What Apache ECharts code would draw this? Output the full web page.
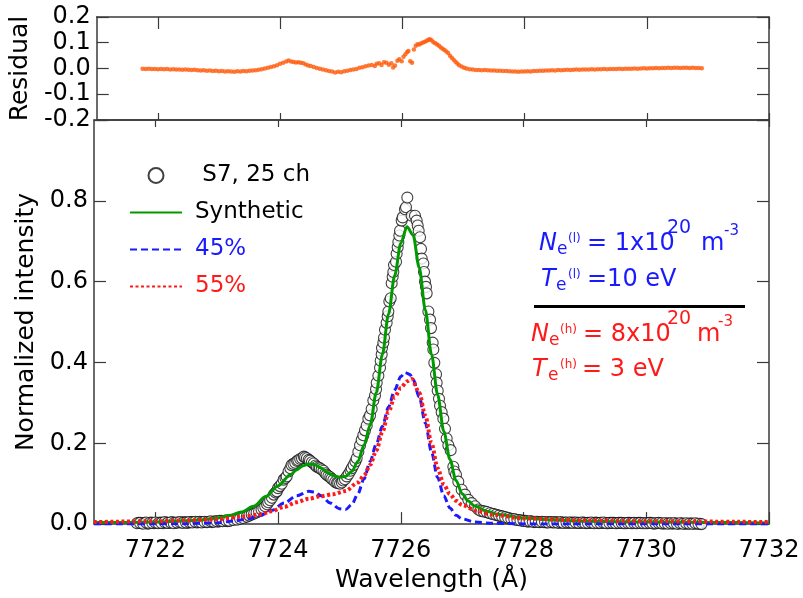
<!DOCTYPE html>
<html><head><meta charset="utf-8">
<script src="https://cdn.jsdelivr.net/npm/echarts@6/dist/echarts.min.js"></script>
<style>html,body{margin:0;padding:0;background:#fff}#c{width:803px;height:598px}</style>
</head><body><div id="c"></div><script>
// ---- data ----
const xTicks = [7722, 7724, 7726, 7728, 7730, 7732];
const resTicks = [-0.2, -0.1, 0.0, 0.1, 0.2];
const mainTicks = [0.0, 0.2, 0.4, 0.6, 0.8, 1.0];

const measured = [
// dense wing samples
[7721.725,0.003],[7721.775,0.002],[7721.825,0.003],[7721.875,0.001],[7721.925,0.004],[7721.975,0.002],[7722.025,0.003],[7722.075,0.004],
[7722.125,0.002],[7722.175,0.004],[7722.225,0.003],[7722.275,0.005],[7722.325,0.003],[7722.375,0.004],[7722.425,0.004],[7722.475,0.005],
[7722.525,0.003],[7722.575,0.005],[7722.625,0.005],[7722.675,0.004],[7722.725,0.006],[7722.775,0.005],[7722.825,0.005],[7722.875,0.006],
[7722.925,0.005],[7722.975,0.007],[7723.025,0.006],[7723.075,0.008],[7723.125,0.008],[7723.175,0.007],[7723.225,0.009],
[7727.325,0.032],[7727.375,0.031],[7727.425,0.028],[7727.475,0.026],[7727.525,0.024],[7727.575,0.022],[7727.625,0.020],[7727.675,0.018],
[7727.725,0.016],[7727.775,0.014],[7727.825,0.012],[7727.875,0.011],[7727.925,0.010],
[7727.975,0.009],[7728.025,0.008],[7728.075,0.006],[7728.125,0.007],[7728.175,0.005],[7728.225,0.006],[7728.275,0.005],[7728.325,0.005],
[7728.375,0.004],[7728.425,0.005],[7728.475,0.004],[7728.525,0.005],[7728.575,0.003],[7728.625,0.004],[7728.675,0.004],[7728.725,0.003],
[7728.775,0.004],[7728.825,0.004],[7728.875,0.003],[7728.925,0.003],[7728.975,0.004],[7729.025,0.002],[7729.075,0.003],[7729.125,0.003],
[7729.175,0.004],[7729.225,0.002],[7729.275,0.003],[7729.325,0.003],[7729.375,0.002],[7729.425,0.003],[7729.475,0.003],[7729.525,0.002],
[7729.575,0.003],[7729.625,0.002],[7729.675,0.002],[7729.725,0.003],[7729.775,0.002],[7729.825,0.002],[7729.875,0.003],[7729.925,0.002],
[7729.975,0.002],[7730.025,0.002],[7730.075,0.003],[7730.125,0.001],[7730.175,0.002],[7730.225,0.002],[7730.275,0.001],[7730.325,0.002],
[7730.375,0.002],[7730.425,0.001],[7730.475,0.002],[7730.525,0.001],[7730.575,0.002],[7730.625,0.001],[7730.675,0.001],[7730.725,0.002],
[7730.775,0.001],[7730.825,0.001],[7730.875,0.001],
// main sweep
[7721.70,0.002],[7721.75,0.003],[7721.80,0.001],[7721.85,0.004],[7721.90,0.002],[7721.95,0.003],[7722.00,0.004],[7722.05,0.002],
[7722.10,0.003],[7722.15,0.005],[7722.20,0.003],[7722.25,0.004],[7722.30,0.002],[7722.35,0.004],[7722.40,0.005],[7722.45,0.003],
[7722.50,0.004],[7722.55,0.005],[7722.60,0.004],[7722.65,0.006],[7722.70,0.005],[7722.75,0.004],[7722.80,0.006],[7722.85,0.005],
[7722.90,0.007],[7722.95,0.006],[7723.00,0.007],[7723.05,0.008],[7723.10,0.007],[7723.15,0.009],[7723.20,0.008],
[7723.27,0.010],[7723.33,0.011],[7723.38,0.013],[7723.43,0.015],[7723.49,0.018],[7723.53,0.021],[7723.57,0.024],[7723.61,0.026],
[7723.65,0.029],[7723.69,0.032],[7723.73,0.036],[7723.76,0.040],[7723.79,0.044],[7723.82,0.049],[7723.84,0.054],[7723.87,0.059],
[7723.90,0.065],[7723.93,0.073],[7723.96,0.078],[7723.98,0.081],[7724.00,0.089],[7724.03,0.094],[7724.06,0.100],[7724.09,0.110],
[7724.12,0.114],[7724.14,0.118],[7724.17,0.130],[7724.20,0.138],[7724.22,0.146],[7724.25,0.149],[7724.28,0.152],[7724.31,0.156],
[7724.33,0.158],[7724.36,0.161],[7724.39,0.163],[7724.42,0.167],[7724.44,0.165],[7724.47,0.163],[7724.50,0.159],[7724.52,0.157],
[7724.55,0.153],[7724.58,0.150],[7724.61,0.145],[7724.63,0.142],[7724.66,0.140],[7724.68,0.138],[7724.71,0.135],[7724.74,0.132],
[7724.77,0.126],[7724.79,0.122],[7724.82,0.119],[7724.85,0.116],[7724.87,0.112],[7724.90,0.109],[7724.93,0.104],[7724.96,0.102],
[7724.98,0.101],[7725.01,0.100],[7725.04,0.103],[7725.06,0.108],[7725.09,0.111],[7725.12,0.118],[7725.15,0.124],[7725.18,0.132],
[7725.20,0.138],[7725.23,0.146],[7725.26,0.155],[7725.28,0.163],
[7725.308,0.179],[7725.335,0.195],[7725.362,0.208],[7725.389,0.220],[7725.416,0.232],[7725.444,0.244],[7725.471,0.261],[7725.498,0.269],
[7725.525,0.285],[7725.552,0.306],[7725.579,0.318],[7725.596,0.334],[7725.607,0.350],[7725.634,0.367],[7725.661,0.387],[7725.672,0.404],
[7725.688,0.420],[7725.693,0.436],[7725.715,0.449],[7725.726,0.461],[7725.742,0.481],[7725.769,0.498],[7725.786,0.514],[7725.797,0.526],
[7725.813,0.551],[7725.835,0.559],[7725.851,0.596],[7725.867,0.612],[7725.878,0.624],[7725.889,0.641],[7725.922,0.649],[7725.932,0.669],
[7725.949,0.685],[7725.960,0.698],[7725.976,0.714],[7725.987,0.726],[7726.014,0.751],[7726.030,0.759],[7726.068,0.779],[7726.085,0.784],
[7726.106,0.808],[7726.177,0.763],[7726.231,0.763],[7726.258,0.751],[7726.275,0.739],[7726.291,0.726],[7726.313,0.710],[7726.329,0.681],
[7726.340,0.657],[7726.367,0.645],[7726.378,0.624],[7726.394,0.600],[7726.410,0.587],[7726.421,0.571],[7726.449,0.526],[7726.476,0.506],
[7726.492,0.485],[7726.519,0.449],[7726.530,0.432],[7726.546,0.399],[7726.574,0.371],[7726.584,0.350],[7726.601,0.330],[7726.622,0.310],
[7726.639,0.293],[7726.666,0.277],[7726.693,0.261],[7726.720,0.236],[7726.747,0.212],[7726.775,0.195],[7726.812,0.183],[7726.856,0.142],
[7726.872,0.130],[7726.899,0.122],[7726.937,0.105],[7726.992,0.085],[7727.046,0.073],[7727.100,0.060],[7727.155,0.052],[7727.209,0.044],
[7727.264,0.036],[7727.30,0.033],[7727.35,0.031],[7727.40,0.030],[7727.45,0.027],[7727.50,0.025],[7727.55,0.023],[7727.60,0.021],
[7727.65,0.019],[7727.70,0.017],[7727.75,0.015],[7727.80,0.013],[7727.85,0.012],[7727.90,0.010],[7727.95,0.009],[7728.00,0.008],
[7728.05,0.007],[7728.10,0.007],[7728.15,0.006],[7728.20,0.006],[7728.25,0.005],[7728.30,0.006],[7728.35,0.005],[7728.40,0.004],
[7728.45,0.005],[7728.50,0.004],[7728.55,0.004],[7728.60,0.005],[7728.65,0.003],[7728.70,0.004],[7728.75,0.004],[7728.80,0.003],
[7728.85,0.004],[7728.90,0.003],[7728.95,0.004],[7729.00,0.003],[7729.05,0.003],[7729.10,0.004],[7729.15,0.002],[7729.20,0.003],
[7729.25,0.003],[7729.30,0.004],[7729.35,0.002],[7729.40,0.003],[7729.45,0.003],[7729.50,0.002],[7729.55,0.003],[7729.60,0.003],
[7729.65,0.002],[7729.70,0.003],[7729.75,0.002],[7729.80,0.003],[7729.85,0.002],[7729.90,0.003],[7729.95,0.002],[7730.00,0.002],
[7730.05,0.003],[7730.10,0.002],[7730.15,0.002],[7730.20,0.003],[7730.25,0.002],[7730.30,0.002],[7730.35,0.001],[7730.40,0.002],
[7730.45,0.002],[7730.50,0.001],[7730.55,0.002],[7730.60,0.001],[7730.65,0.002],[7730.70,0.001],[7730.75,0.001],[7730.80,0.002],
[7730.85,0.001],[7730.90,0.000]
];

const synthetic = [
[7721.0,0.004],[7721.5,0.004],[7722.0,0.005],[7722.5,0.008],[7722.8,0.011],[7723.0,0.015],[7723.2,0.021],[7723.4,0.030],
[7723.6,0.044],[7723.8,0.068],[7724.0,0.095],[7724.2,0.122],[7724.3,0.134],[7724.4,0.144],[7724.5,0.149],[7724.6,0.147],
[7724.7,0.139],[7724.8,0.128],[7724.9,0.120],[7725.0,0.116],[7725.1,0.118],[7725.2,0.130],[7725.3,0.155],[7725.4,0.195],
[7725.5,0.245],[7725.6,0.325],[7725.7,0.420],[7725.8,0.520],[7725.9,0.615],[7726.0,0.695],[7726.1,0.736],[7726.2,0.715],
[7726.3,0.635],[7726.4,0.530],[7726.5,0.420],[7726.6,0.320],[7726.7,0.230],[7726.8,0.160],[7726.9,0.108],[7727.0,0.075],
[7727.1,0.057],[7727.2,0.045],[7727.4,0.032],[7727.6,0.024],[7728.0,0.015],[7728.5,0.010],[7729.0,0.007],[7730.0,0.005],
[7731.0,0.004],[7732.0,0.003]
];

const comp45 = [
[7721.0,0.000],[7722.0,0.0005],[7722.5,0.001],[7723.0,0.003],[7723.3,0.008],[7723.5,0.013],[7723.7,0.021],[7723.9,0.034],
[7724.1,0.052],[7724.3,0.070],[7724.5,0.081],[7724.6,0.079],[7724.7,0.070],[7724.85,0.052],[7725.0,0.038],[7725.1,0.036],
[7725.2,0.048],[7725.3,0.075],[7725.4,0.112],[7725.5,0.155],[7725.6,0.198],[7725.7,0.242],[7725.8,0.290],[7725.9,0.332],
[7726.0,0.365],[7726.07,0.375],[7726.15,0.370],[7726.2,0.358],[7726.3,0.315],[7726.4,0.250],[7726.5,0.178],[7726.6,0.115],
[7726.7,0.070],[7726.8,0.040],[7726.9,0.022],[7727.0,0.013],[7727.2,0.005],[7727.5,0.002],[7728.0,0.0005],[7732.0,0.000]
];

const comp55 = [
[7721.0,0.005],[7722.0,0.007],[7722.5,0.009],[7723.0,0.012],[7723.4,0.018],[7723.7,0.024],[7723.9,0.032],[7724.1,0.043],
[7724.3,0.054],[7724.5,0.063],[7724.7,0.069],[7724.9,0.074],[7725.1,0.082],[7725.3,0.103],[7725.4,0.120],[7725.5,0.146],
[7725.6,0.182],[7725.7,0.228],[7725.8,0.278],[7725.9,0.315],[7726.0,0.337],[7726.1,0.353],[7726.18,0.359],[7726.3,0.325],
[7726.4,0.268],[7726.5,0.200],[7726.6,0.138],[7726.7,0.098],[7726.8,0.074],[7726.9,0.058],[7727.0,0.047],[7727.25,0.032],
[7727.5,0.023],[7728.0,0.014],[7729.0,0.009],[7730.0,0.007],[7732.0,0.005]
];

const residual = [
[7721.75,-0.001],[7721.80,-0.002],[7721.85,-0.001],[7721.90,-0.002],[7721.95,-0.002],[7722.00,-0.003],[7722.05,-0.002],[7722.10,-0.003],
[7722.15,-0.002],[7722.20,-0.004],[7722.25,-0.003],[7722.30,-0.004],[7722.35,-0.004],[7722.40,-0.005],[7722.45,-0.004],[7722.50,-0.005],
[7722.55,-0.006],[7722.60,-0.005],[7722.65,-0.007],[7722.70,-0.008],[7722.75,-0.007],[7722.80,-0.009],[7722.85,-0.008],[7722.90,-0.010],
[7722.95,-0.009],[7723.00,-0.011],[7723.05,-0.010],[7723.10,-0.012],[7723.15,-0.011],[7723.20,-0.012],[7723.25,-0.013],[7723.30,-0.011],
[7723.35,-0.012],[7723.40,-0.010],[7723.45,-0.011],[7723.50,-0.009],[7723.55,-0.008],[7723.60,-0.007],[7723.65,-0.005],[7723.70,-0.003],
[7723.75,0.000],[7723.80,0.003],[7723.85,0.006],[7723.90,0.009],[7723.95,0.013],[7724.00,0.018],[7724.05,0.022],[7724.10,0.027],
[7724.14,0.031],[7724.18,0.027],[7724.22,0.025],[7724.26,0.023],[7724.30,0.024],[7724.34,0.022],[7724.38,0.020],[7724.42,0.016],
[7724.46,0.012],[7724.50,0.010],[7724.55,0.006],[7724.60,0.002],[7724.65,-0.001],[7724.70,-0.004],[7724.75,-0.007],[7724.80,-0.010],
[7724.85,-0.012],[7724.90,-0.016],[7724.95,-0.013],[7725.00,-0.015],[7725.05,-0.011],[7725.10,-0.009],[7725.15,-0.006],[7725.20,-0.004],
[7725.25,-0.002],[7725.30,0.003],[7725.35,0.005],[7725.40,0.009],[7725.45,0.012],[7725.50,0.014],[7725.55,0.010],[7725.58,0.018],
[7725.62,0.020],[7725.66,0.014],[7725.70,0.024],[7725.74,0.022],[7725.78,0.015],[7725.82,0.020],[7725.85,0.004],[7725.88,0.012],
[7725.92,0.030],[7725.95,0.036],[7725.99,0.028],[7726.02,0.046],[7726.05,0.055],[7726.08,0.064],[7726.10,0.068],[7726.13,0.028],
[7726.16,0.022],[7726.19,0.074],[7726.22,0.088],[7726.25,0.094],[7726.28,0.093],[7726.31,0.098],[7726.34,0.101],[7726.37,0.104],
[7726.40,0.108],[7726.43,0.112],[7726.45,0.114],[7726.48,0.110],[7726.51,0.102],[7726.54,0.098],[7726.57,0.093],[7726.60,0.088],
[7726.63,0.082],[7726.66,0.077],[7726.69,0.072],[7726.72,0.066],[7726.75,0.060],[7726.78,0.050],[7726.81,0.042],[7726.84,0.034],
[7726.87,0.026],[7726.90,0.019],[7726.93,0.013],[7726.97,0.008],[7727.01,0.003],[7727.05,0.000],[7727.10,-0.003],[7727.15,-0.004],
[7727.20,-0.006],[7727.25,-0.006],[7727.30,-0.007],[7727.35,-0.006],[7727.40,-0.007],[7727.45,-0.008],[7727.50,-0.008],[7727.55,-0.009],
[7727.60,-0.009],[7727.65,-0.010],[7727.70,-0.010],[7727.75,-0.011],[7727.80,-0.012],[7727.85,-0.012],[7727.90,-0.013],[7727.95,-0.012],
[7728.00,-0.012],[7728.05,-0.011],[7728.10,-0.012],[7728.15,-0.010],[7728.20,-0.010],[7728.25,-0.009],[7728.30,-0.009],[7728.35,-0.008],
[7728.40,-0.008],[7728.45,-0.007],[7728.50,-0.008],[7728.55,-0.006],[7728.60,-0.007],[7728.65,-0.006],[7728.70,-0.005],[7728.75,-0.006],
[7728.80,-0.005],[7728.85,-0.004],[7728.90,-0.005],[7728.95,-0.004],[7729.00,-0.004],[7729.05,-0.004],[7729.10,-0.003],[7729.15,-0.004],
[7729.20,-0.003],[7729.25,-0.003],[7729.30,-0.002],[7729.35,-0.003],[7729.40,-0.002],[7729.45,-0.002],[7729.50,-0.002],[7729.55,-0.001],
[7729.60,-0.002],[7729.65,-0.001],[7729.70,-0.001],[7729.75,-0.001],[7729.80,0.000],[7729.85,-0.001],[7729.90,0.000],[7729.95,0.001],
[7730.00,0.000],[7730.05,0.001],[7730.10,0.001],[7730.15,0.002],[7730.20,0.001],[7730.25,0.002],[7730.30,0.002],[7730.35,0.003],
[7730.40,0.002],[7730.45,0.003],[7730.50,0.003],[7730.55,0.002],[7730.60,0.003],[7730.65,0.003],[7730.70,0.002],[7730.75,0.003],
[7730.80,0.002],[7730.85,0.002],[7730.90,0.001]
];

const seriesNames = [' S7, 25 ch', 'Synthetic', '45%', '55%'];

// ---- styling / layout ----
const FONT = '"DejaVu Sans", "Noto Sans", sans-serif';
const AX = '#3a3a3a';
const BLUE = '#1a1aff', RED = '#ff1a1a', GREEN = '#009a00', ORANGE = '#ff5a0a';

function xAx(grid, pos, showLabel, tickLen, extra) {
  return Object.assign({
    type: 'value', gridIndex: grid, position: pos, min: 7721, max: 7732,
    axisLine: {show: true, onZero: false, lineStyle: {color: AX, width: 1.5}},
    axisTick: {show: true, inside: true, length: tickLen, customValues: xTicks, lineStyle: {color: AX, width: 1.2}},
    axisLabel: {show: showLabel, customValues: xTicks, margin: 15, color: '#000', fontSize: 24, fontFamily: FONT,
      formatter: v => String(Math.round(v))},
    splitLine: {show: false}
  }, extra || {});
}
function yAx(grid, pos, min, max, interval, showLabel, extra) {
  return Object.assign({
    type: 'value', gridIndex: grid, position: pos, min: min, max: max, interval: interval,
    axisLine: {show: true, onZero: false, lineStyle: {color: AX, width: 1.5}},
    axisTick: {show: true, inside: true, length: 12, lineStyle: {color: AX, width: 1.2}},
    axisLabel: {show: showLabel, margin: 6, color: '#000', fontSize: 24, fontFamily: FONT,
      formatter: v => (v > 0.99 && max === 1) ? '' : (Math.abs(v) < 1e-9 ? '0.0' : v.toFixed(1))},
    splitLine: {show: false}
  }, extra || {});
}

const nameStyle = {color: '#000', fontSize: 25, fontFamily: FONT};

// annotation pieces: [text, x, baseline, fontSize, italic, color]
const annot = [
  ['N', 539, 252, 24, true, BLUE], ['e', 557, 256, 17, false, BLUE], ['(l)', 568, 243, 12, false, BLUE],
  ['= 1x10', 587, 252, 24, false, BLUE], ['20', 667, 235, 19, false, BLUE], ['m', 701, 252, 24, false, BLUE], ['-3', 724, 236, 15, false, BLUE],
  ['T', 541, 288, 24, true, BLUE], ['e', 556, 292, 17, false, BLUE], ['(l)', 568, 279, 12, false, BLUE], ['=10 eV', 587, 288, 24, false, BLUE],
  ['N', 531, 343, 24, true, RED], ['e', 549, 347, 17, false, RED], ['(h)', 560, 334, 12, false, RED],
  ['= 8x10', 583, 343, 24, false, RED], ['20', 667, 326, 19, false, RED], ['m', 697, 343, 24, false, RED], ['-3', 718, 327, 15, false, RED],
  ['T', 532, 378, 24, true, RED], ['e', 548, 382, 17, false, RED], ['(h)', 560, 369, 12, false, RED], ['= 3 eV', 582, 378, 24, false, RED]
];
const graphics = annot.map(a => ({
  type: 'text', x: a[1], y: a[2] - 0.35 * a[3], silent: true, z: 50,
  style: {text: a[0], fill: a[5], font: (a[4] ? 'italic ' : '') + a[3] + 'px ' + FONT, align: 'left', verticalAlign: 'middle'}
}));
graphics.push({type: 'line', silent: true, z: 50, shape: {x1: 534, y1: 306.5, x2: 745, y2: 306.5}, style: {stroke: '#000', lineWidth: 3}});

const hideSym = {opacity: 0};
const chart = echarts.init(document.getElementById('c'), null, {renderer: 'canvas'});
chart.setOption({
  animation: false,
  backgroundColor: '#fff',
  grid: [
    {left: 94, right: 34, top: 17, height: 103},
    {left: 94, right: 34, top: 120, height: 408}
  ],
  xAxis: [
    xAx(0, 'bottom', false, 7),
    xAx(0, 'top', false, 12),
    xAx(1, 'bottom', true, 12, {name: 'Wavelength (Å)', nameLocation: 'middle', nameGap: 38, nameTextStyle: nameStyle}),
    xAx(1, 'top', false, 7)
  ],
  yAxis: [
    yAx(0, 'left', -0.2, 0.2, 0.1, true, {name: 'Residual', nameLocation: 'middle', nameGap: 50, nameTextStyle: nameStyle}),
    yAx(0, 'right', -0.2, 0.2, 0.1, false),
    yAx(1, 'left', 0, 1, 0.2, true, {name: 'Normalized intensity', nameLocation: 'middle', nameGap: 51, nameTextStyle: nameStyle}),
    yAx(1, 'right', 0, 1, 0.2, false)
  ],
  legend: {
    orient: 'vertical', left: 129, top: 164, padding: 0, itemWidth: 52, itemHeight: 15, itemGap: 14,
    textStyle: {fontSize: 23, fontFamily: FONT, color: '#000', lineHeight: 18, padding: [0, 0, 0, 8]},
    selectedMode: false,
    data: [
      {name: seriesNames[0], icon: 'circle'},
      {name: seriesNames[1], itemStyle: hideSym},
      {name: seriesNames[2], itemStyle: hideSym, textStyle: {color: BLUE}},
      {name: seriesNames[3], itemStyle: hideSym, textStyle: {color: RED}}
    ]
  },
  series: [
    {name: 'Residual', type: 'scatter', xAxisIndex: 0, yAxisIndex: 0, data: residual, symbol: 'circle', symbolSize: 4.5,
     itemStyle: {color: ORANGE}, silent: true},
    {name: seriesNames[1], type: 'line', xAxisIndex: 2, yAxisIndex: 2, data: synthetic, symbol: 'none', showSymbol: false,
     smooth: 0.3, smoothMonotone: 'x', lineStyle: {color: GREEN, width: 3}, itemStyle: {color: GREEN}, silent: true},
    {name: seriesNames[2], type: 'line', xAxisIndex: 2, yAxisIndex: 2, data: comp45, symbol: 'none', showSymbol: false,
     smooth: 0.3, smoothMonotone: 'x', lineStyle: {color: BLUE, width: 3, type: [7, 4]}, itemStyle: {color: BLUE}, silent: true},
    {name: seriesNames[3], type: 'line', xAxisIndex: 2, yAxisIndex: 2, data: comp55, symbol: 'none', showSymbol: false,
     smooth: 0.3, smoothMonotone: 'x', lineStyle: {color: RED, width: 4, type: [3, 2.5]}, itemStyle: {color: RED}, silent: true},
    {name: seriesNames[0], type: 'scatter', xAxisIndex: 2, yAxisIndex: 2, data: measured, symbol: 'circle', symbolSize: 11,
     itemStyle: {color: '#ffffff', borderColor: '#111', borderWidth: 1.1}, silent: true}
  ],
  graphic: graphics
});
</script></body></html>
